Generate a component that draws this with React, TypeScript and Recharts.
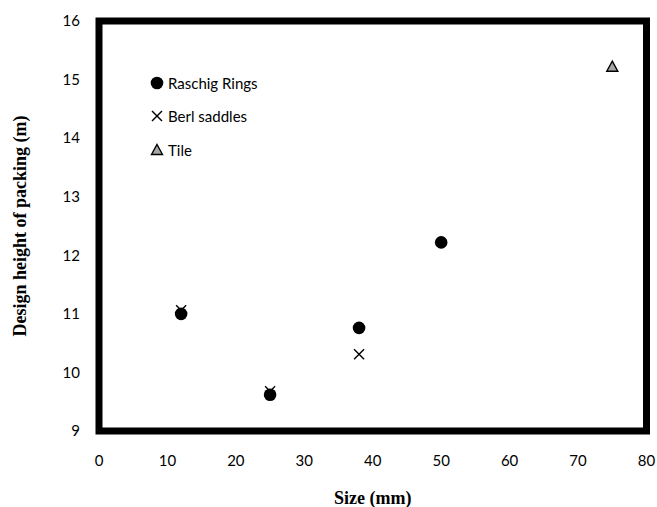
import React from 'react';
import {
  ScatterChart,
  Scatter,
  XAxis,
  YAxis,
  ReferenceArea,
} from 'recharts';

// values
const raschigSize = [12, 25, 38, 50];
const raschigHeight = [11.0, 9.62, 10.76, 12.22];
const berlSize = [12, 25, 38];
const berlHeight = [11.06, 9.68, 10.31];
const tileSize = [75];
const tileHeight = [15.22];

const xTicks = [0, 10, 20, 30, 40, 50, 60, 70, 80];
const yTicks = [9, 10, 11, 12, 13, 14, 15, 16];

const seriesNames = ['Raschig Rings', 'Berl saddles', 'Tile'];

const toPoints = (xs: number[], ys: number[]) => xs.map((x, i) => ({ x, y: ys[i] }));

const raschigData = toPoints(raschigSize, raschigHeight);
const berlData = toPoints(berlSize, berlHeight);
const tileData = toPoints(tileSize, tileHeight);

const TICK_FONT = 'Lato, "Open Sans", sans-serif';
const TITLE_FONT = '"Liberation Serif", "Times New Roman", serif';

const Dot = ({ cx, cy }: any) => <circle cx={cx} cy={cy} r={6.3} fill="#000" />;

const Cross = ({ cx, cy }: any) => (
  <g stroke="#000" strokeWidth={1.4}>
    <line x1={cx - 5} y1={cy - 5} x2={cx + 5} y2={cy + 5} />
    <line x1={cx - 5} y1={cy + 5} x2={cx + 5} y2={cy - 5} />
  </g>
);

const Triangle = ({ cx, cy }: any) => (
  <polygon
    points={`${cx},${cy - 5.5} ${cx + 5.5},${cy + 4.5} ${cx - 5.5},${cy + 4.5}`}
    fill="#a6a6a6"
    stroke="#000"
    strokeWidth={1.4}
    strokeLinejoin="miter"
  />
);

const markers = [Dot, Cross, Triangle];

// legend sits inside the plot area, so it is laid over the chart
const LegendBox = () => (
  <div
    style={{
      position: 'absolute',
      left: 149,
      top: 66,
      fontFamily: TICK_FONT,
      fontSize: 15,
      color: '#000',
      pointerEvents: 'none',
    }}
  >
    {seriesNames.map((name, i) => {
      const Marker = markers[i];
      return (
        <div key={name} style={{ display: 'flex', alignItems: 'center', height: 33.5 }}>
          <svg width={16} height={16} style={{ marginRight: 3 }}>
            <Marker cx={8} cy={8} />
          </svg>
          <span>{name}</span>
        </div>
      );
    })}
  </div>
);

export default function App() {
  return (
    <div style={{ position: 'absolute', left: 0, top: 0, width: 657, height: 507, background: '#fff' }}>
      <ScatterChart
        width={657}
        height={507}
        margin={{ top: 21, right: 10.5, bottom: 0, left: 0 }}
      >
        <XAxis
          type="number"
          dataKey="x"
          domain={[0, 80]}
          ticks={xTicks}
          tickLine={false}
          axisLine={false}
          tickMargin={18}
          height={76}
          tick={{ fill: '#000', fontFamily: TICK_FONT, fontSize: 15 }}
          label={{
            value: 'Size (mm)',
            position: 'insideBottom',
            offset: 3,
            style: { fill: '#000', fontFamily: TITLE_FONT, fontWeight: 'bold', fontSize: 18 },
          }}
        />
        <YAxis
          type="number"
          dataKey="y"
          domain={[9, 16]}
          ticks={yTicks}
          tickLine={false}
          axisLine={false}
          tickMargin={13}
          width={99}
          tick={{ fill: '#000', fontFamily: TICK_FONT, fontSize: 15 }}
          label={{
            value: 'Design height of packing (m)',
            angle: -90,
            position: 'insideLeft',
            offset: 20,
            style: {
              textAnchor: 'middle',
              fill: '#000',
              fontFamily: TITLE_FONT,
              fontWeight: 'bold',
              fontSize: 18,
            },
          }}
        />
        <ReferenceArea
          x1={0}
          x2={80}
          y1={9}
          y2={16}
          fill="none"
          stroke="#000"
          strokeWidth={7}
          strokeLinejoin="miter"
        />
        <Scatter name={seriesNames[0]} data={raschigData} shape={<Dot />} isAnimationActive={false} />
        <Scatter name={seriesNames[1]} data={berlData} shape={<Cross />} isAnimationActive={false} />
        <Scatter name={seriesNames[2]} data={tileData} shape={<Triangle />} isAnimationActive={false} />
      </ScatterChart>
      <LegendBox />
    </div>
  );
}
